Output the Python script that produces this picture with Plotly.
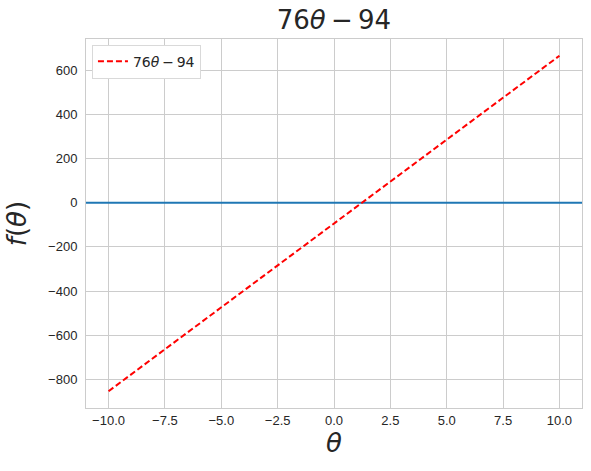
import plotly.graph_objects as go

# Data
theta = [-10, -5, 0, 5, 10]
f_theta = [-854, -474, -94, 286, 666]
zero_x = [-11, 11]
zero_y = [0, 0]

x_ticks = [-10, -7.5, -5, -2.5, 0, 2.5, 5, 7.5, 10]
x_tick_text = ["\u221210.0", "\u22127.5", "\u22125.0", "\u22122.5", "0.0", "2.5", "5.0", "7.5", "10.0"]
y_ticks = [-800, -600, -400, -200, 0, 200, 400, 600]
y_tick_text = ["\u2212800", "\u2212600", "\u2212400", "\u2212200", "0", "200", "400", "600"]

label = "76<i>θ</i>\u2009\u2212\u200994"

fig = go.Figure()
fig.add_trace(go.Scatter(
    x=zero_x, y=zero_y, mode="lines",
    line=dict(color="#1f77b4", width=2), showlegend=False, hoverinfo="skip"))
fig.add_trace(go.Scatter(
    x=theta, y=f_theta, mode="lines",
    line=dict(color="red", width=2, dash="6px,3px"),
    name=label))

axis_common = dict(
    showgrid=True, gridcolor="#cccccc", gridwidth=1,
    showline=True, linecolor="#cccccc", linewidth=1, mirror=True,
    zeroline=False, ticks="", automargin=False,
    tickfont=dict(family="Liberation Sans, Arial, sans-serif", size=13, color="#262626"),
)

fig.update_layout(
    width=591, height=471,
    margin=dict(l=86, r=9, t=39, b=63),
    paper_bgcolor="white", plot_bgcolor="white",
    title=dict(text=label, x=0.565, xanchor="center", y=0.957, yanchor="middle",
               font=dict(family="DejaVu Sans", size=26, color="#262626")),
    xaxis=dict(range=[-11, 11], tickvals=x_ticks, ticktext=x_tick_text,
               title=dict(text="<i>θ</i>", font=dict(family="DejaVu Sans", size=26, color="#262626"), standoff=0),
               **axis_common),
    yaxis=dict(range=[-930, 742], tickvals=y_ticks, ticktext=y_tick_text,
               ticklabelstandoff=5,
               title=dict(text="<i>f</i>(<i>θ</i>)", font=dict(family="DejaVu Sans", size=26, color="#262626"), standoff=14),
               **axis_common),
    legend=dict(x=0.012, y=0.985, xanchor="left", yanchor="top",
                bgcolor="white", bordercolor="#d9d9d9", borderwidth=1,
                font=dict(family="DejaVu Sans", size=14, color="#262626")),
)

fig.write_html("out.html", config={"displayModeBar": False},
               post_script="document.body.style.margin='0';document.body.style.overflow='hidden';")
